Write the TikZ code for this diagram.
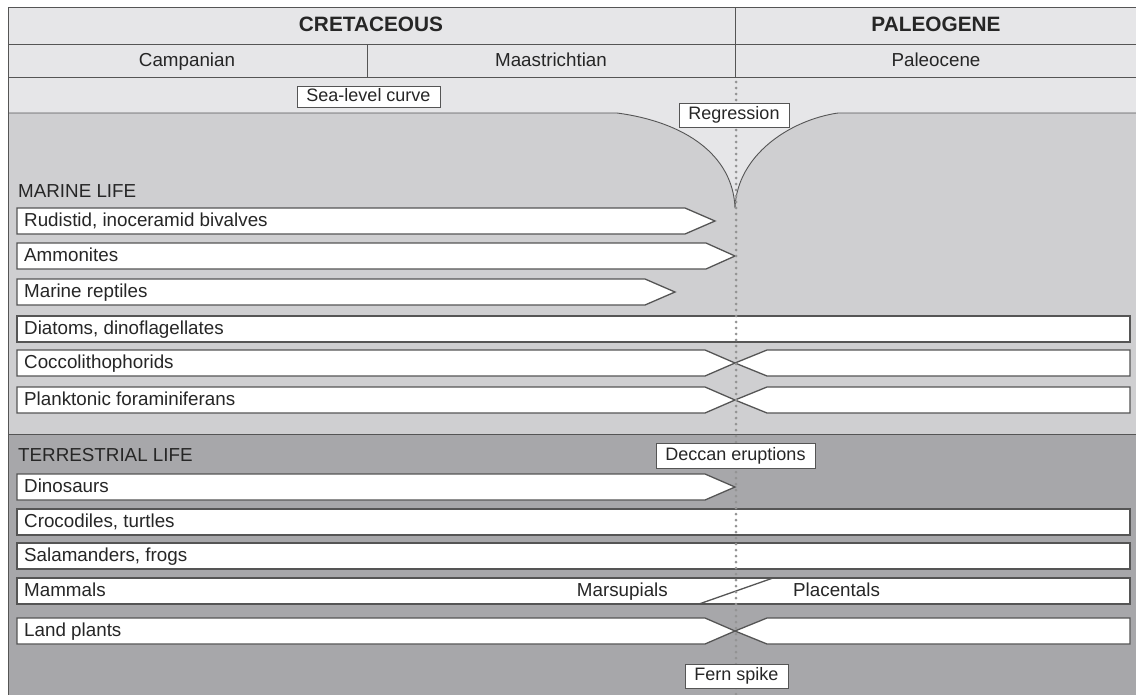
\documentclass[tikz,border=0pt]{standalone}
\usepackage{fontspec}
\setmainfont{Liberation Sans}
\definecolor{hdrgray}{HTML}{E6E6E8}
\definecolor{margray}{HTML}{CFCFD1}
\definecolor{tergray}{HTML}{A7A7AA}
\definecolor{linegray}{HTML}{555555}
\definecolor{dotgray}{HTML}{939393}
\begin{document}
\begin{tikzpicture}[x=1pt,y=-1pt,
  lbl/.style={font=\fontsize{18.8}{21}\selectfont, inner sep=0pt, anchor=west, text=black!85, text height=13.5pt, text depth=3.5pt},
  hdr/.style={font=\fontsize{18.8}{21}\selectfont, inner sep=0pt, text=black!85, text height=13.5pt, text depth=3.5pt},
  hdrb/.style={font=\fontsize{20.8}{23}\selectfont\bfseries, inner sep=0pt, text=black!85, text height=15pt, text depth=3.5pt},
  bar/.style={draw=linegray, fill=white, line width=1.3pt, line join=miter},
  tagbox/.style={draw=linegray, fill=white, line width=0.9pt, font=\fontsize{18}{21}\selectfont, inner xsep=0pt, inner ysep=0pt, text=black!85, text height=13pt, text depth=3.5pt},
  frame/.style={draw=linegray, line width=0.9pt}]
\useasboundingbox (0,0) rectangle (1136,694);
\begin{scope}
\clip (0,0) rectangle (1136,694);
% backgrounds
\fill[white] (0,0) rectangle (1136,694);
\fill[hdrgray] (8,7) rectangle (1140,434);
\fill[tergray] (8,434) rectangle (1140,700);
\fill[margray] (8,113) -- (617,113) .. controls (685,122) and (733,155) .. (735,208)
  .. controls (737,155) and (790,120) .. (838,113) -- (1140,113) -- (1140,434) -- (8,434) -- cycle;
\draw[linegray, line width=0.9pt] (8,113) -- (617,113) .. controls (685,122) and (733,155) .. (735,208)
  .. controls (737,155) and (790,120) .. (838,113) -- (1140,113);
\draw[frame] (8,434) -- (1140,434);
% header
\draw[frame] (8,7) -- (1140,7);
\draw[frame] (8,44) -- (1140,44);
\draw[frame] (8,77) -- (1140,77);
\draw[frame] (735,7) -- (735,77);
\draw[frame] (367,44) -- (367,77);
\draw[frame] (8,7) -- (8,700);
\node[hdrb] (cret) at (371,26) {CRETACEOUS};
\node[hdrb] (paleo) at (936,26) {PALEOGENE};
\node[hdr] (camp) at (187,61) {Campanian};
\node[hdr] (maas) at (551,61) {Maastrichtian};
\node[hdr] (pcn) at (936,61) {Paleocene};
% section labels
\node[lbl] (marine) at (18,192) {MARINE LIFE};
\node[lbl] (terr) at (18,456) {TERRESTRIAL LIFE};
% marine bars
\draw[bar] (17,208) -- (685,208) -- (715,221) -- (685,234) -- (17,234) -- cycle;
\node[lbl] (rud) at (24,221) {Rudistid, inoceramid bivalves};
\draw[bar] (17,243) -- (706,243) -- (735,256) -- (706,269) -- (17,269) -- cycle;
\node[lbl] (amm) at (24,256) {Ammonites};
\draw[bar] (17,279) -- (645,279) -- (675,292) -- (645,305) -- (17,305) -- cycle;
\node[lbl] (rep) at (24,292) {Marine reptiles};
\draw[bar] (17,316) rectangle (1130,342);
\node[lbl] (dia) at (24,329) {Diatoms, dinoflagellates};
\draw[bar] (17,350) -- (705,350) -- (735,363) -- (705,376) -- (17,376) -- cycle;
\draw[bar] (1130,350) -- (767,350) -- (735,363) -- (767,376) -- (1130,376) -- cycle;
\node[lbl] (coc) at (24,363) {Coccolithophorids};
\draw[bar] (17,387) -- (705,387) -- (735,400) -- (705,413) -- (17,413) -- cycle;
\draw[bar] (1130,387) -- (767,387) -- (735,400) -- (767,413) -- (1130,413) -- cycle;
\node[lbl] (pla) at (24,400) {Planktonic foraminiferans};
% terrestrial bars
\draw[bar] (17,474) -- (705,474) -- (735,487) -- (705,500) -- (17,500) -- cycle;
\node[lbl] (dino) at (24,487) {Dinosaurs};
\draw[bar] (17,509) rectangle (1130,535);
\node[lbl] (croc) at (24,522) {Crocodiles, turtles};
\draw[bar] (17,543) rectangle (1130,569);
\node[lbl] (sal) at (24,556) {Salamanders, frogs};
\draw[bar] (17,578) rectangle (1130,604);
\draw[linegray, line width=1.3pt] (699,604) -- (773,578);
\node[lbl] (mam) at (24,591) {Mammals};
\node[lbl, anchor=east] (mars) at (668,591) {Marsupials};
\node[lbl] (plac) at (793,591) {Placentals};
\draw[bar] (17,618) -- (705,618) -- (735,631) -- (705,644) -- (17,644) -- cycle;
\draw[bar] (1130,618) -- (767,618) -- (735,631) -- (767,644) -- (1130,644) -- cycle;
\node[lbl] (land) at (24,631) {Land plants};
% boundary dotted line
\coordinate (ktop) at (736,82);
\coordinate (kbot) at (736,694);
\draw[dotgray, line width=3pt, dash pattern=on 0pt off 6pt, line cap=round] (ktop) -- (kbot);
% tag boxes
\node[tagbox, minimum width=143pt, minimum height=21pt] (sea) at (368.5,96.5) {Sea-level curve};
\node[tagbox, minimum width=110pt, minimum height=24pt] (reg) at (734,115) {Regression};
\node[tagbox, minimum width=159pt, minimum height=25pt] (dec) at (735.5,455.5) {Deccan eruptions};
\node[tagbox, minimum width=103pt, minimum height=24pt] (fern) at (736.5,676) {Fern spike};
\end{scope}
\end{tikzpicture}
\end{document}
